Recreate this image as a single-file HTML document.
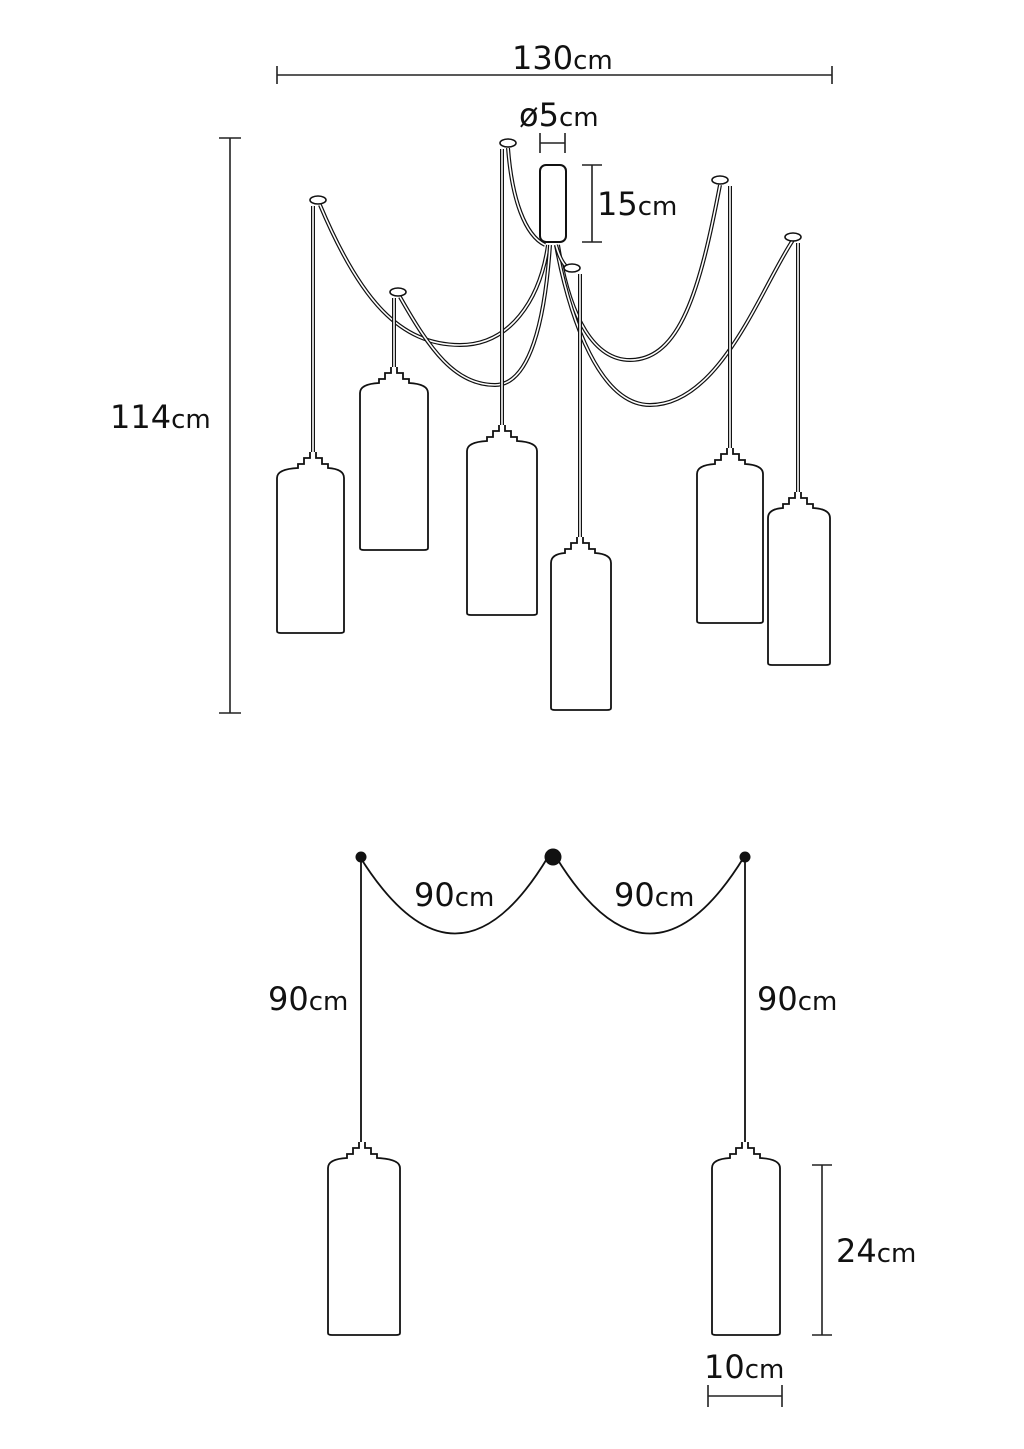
<!DOCTYPE html>
<html><head><meta charset="utf-8"><style>
html,body{margin:0;padding:0;background:#fff}
svg{display:block}
text{font-family:"DejaVu Sans","Liberation Sans",sans-serif;fill:#111;font-size:32px}
tspan.c{font-size:26px}
</style></head><body>
<svg id="s" width="1024" height="1449" viewBox="0 0 1024 1449" xmlns="http://www.w3.org/2000/svg">
<g stroke="#222" stroke-width="1.6" fill="none">
<path d="M277 75H832M277 66V84M832 66V84"/>
<path d="M230 138V713M219 138H241M219 713H241"/>
<path d="M540 143H565M540 133V153M565 133V153"/>
<path d="M592 165V242M582 165H602M582 242H602"/>
<path d="M822 1165V1335M812 1165H832M812 1335H832"/>
<path d="M708 1396H782M708 1385V1407M782 1385V1407"/>
</g>
<g id="cords"></g>
<g id="lamps"></g>
<rect x="540" y="165" width="26" height="77" rx="6" fill="#fff" stroke="#111" stroke-width="2"/>
<g stroke="#111" stroke-width="1.8" fill="none">
<path d="M360 857 Q456 1010 548 857"/>
<path d="M556 857 Q650 1010 744 857"/>
<path d="M361 857V1142M745 857V1142"/>
</g>
<circle cx="361" cy="857" r="5.5" fill="#111"/>
<circle cx="553" cy="857" r="8.5" fill="#111"/>
<circle cx="745" cy="857" r="5.5" fill="#111"/>
<text x="512" y="69">130<tspan class="c">cm</tspan></text>
<text x="519" y="126">ø5<tspan class="c">cm</tspan></text>
<text x="597" y="215">15<tspan class="c">cm</tspan></text>
<text x="110" y="428">114<tspan class="c">cm</tspan></text>
<text x="414" y="906">90<tspan class="c">cm</tspan></text>
<text x="614" y="906">90<tspan class="c">cm</tspan></text>
<text x="268" y="1010">90<tspan class="c">cm</tspan></text>
<text x="757" y="1010">90<tspan class="c">cm</tspan></text>
<text x="836" y="1262">24<tspan class="c">cm</tspan></text>
<text x="704" y="1378">10<tspan class="c">cm</tspan></text>
</svg>
<script>
var NS="http://www.w3.org/2000/svg";
function el(p,t,a){var e=document.createElementNS(NS,t);for(var k in a)e.setAttribute(k,a[k]);p.appendChild(e);return e;}
var cords=document.getElementById('cords'),lamps=document.getElementById('lamps');
function cord(d){el(cords,'path',{d:d,stroke:'#111','stroke-width':4,fill:'none'});el(cords,'path',{d:d,stroke:'#fff','stroke-width':1.6,fill:'none'});}
cord("M320 205 C360 300 400 345 460 345 C510 345 540 300 548 245");
cord("M400 297 C430 350 455 385 495 385 C530 385 545 320 550 245");
cord("M508 148 C512 200 525 235 545 245");
cord("M720 185 C700 290 680 360 630 360 C595 360 570 320 558 245");
cord("M793 240 C760 290 720 405 650 405 C600 405 570 320 556 245");
cord("M572 270 C565 268 560 260 556 245");
var L=[[313,200,452,277,344,633],[394,292,367,360,428,550],[502,143,425,467,537,615],[580,268,537,551,611,710],[730,180,448,697,763,623],[798,237,492,768,830,665]];
L.forEach(function(l){cord("M"+l[0]+" "+(l[1]+6)+"V"+l[2]);});
[[318,200],[508,143],[720,180],[793,237],[398,292],[572,268]].forEach(function(c){el(cords,'ellipse',{cx:c[0],cy:c[1],rx:8,ry:4,fill:'#fff',stroke:'#111','stroke-width':1.6});});
function lamp(cx,t,Lx,R,B){
  var d="M"+(cx-3)+" "+t+"V"+(t+6)+"H"+(cx-9)+"V"+(t+12)+"H"+(cx-15)+"V"+(t+16)+
  "Q"+Lx+" "+(t+17)+" "+Lx+" "+(t+26)+"V"+(B-2)+"Q"+Lx+" "+B+" "+(Lx+4)+" "+B+"H"+(R-4)+"Q"+R+" "+B+" "+R+" "+(B-2)+
  "V"+(t+26)+"Q"+R+" "+(t+17)+" "+(cx+15)+" "+(t+16)+"V"+(t+12)+"H"+(cx+9)+"V"+(t+6)+"H"+(cx+3)+"V"+t;
  el(lamps,'path',{d:d,fill:'#fff',stroke:'#111','stroke-width':1.8});
}
L.forEach(function(l){lamp(l[0],l[2],l[3],l[4],l[5]);});
lamp(362,1142,328,400,1335);
lamp(745,1142,712,780,1335);
</script>
</body></html>
